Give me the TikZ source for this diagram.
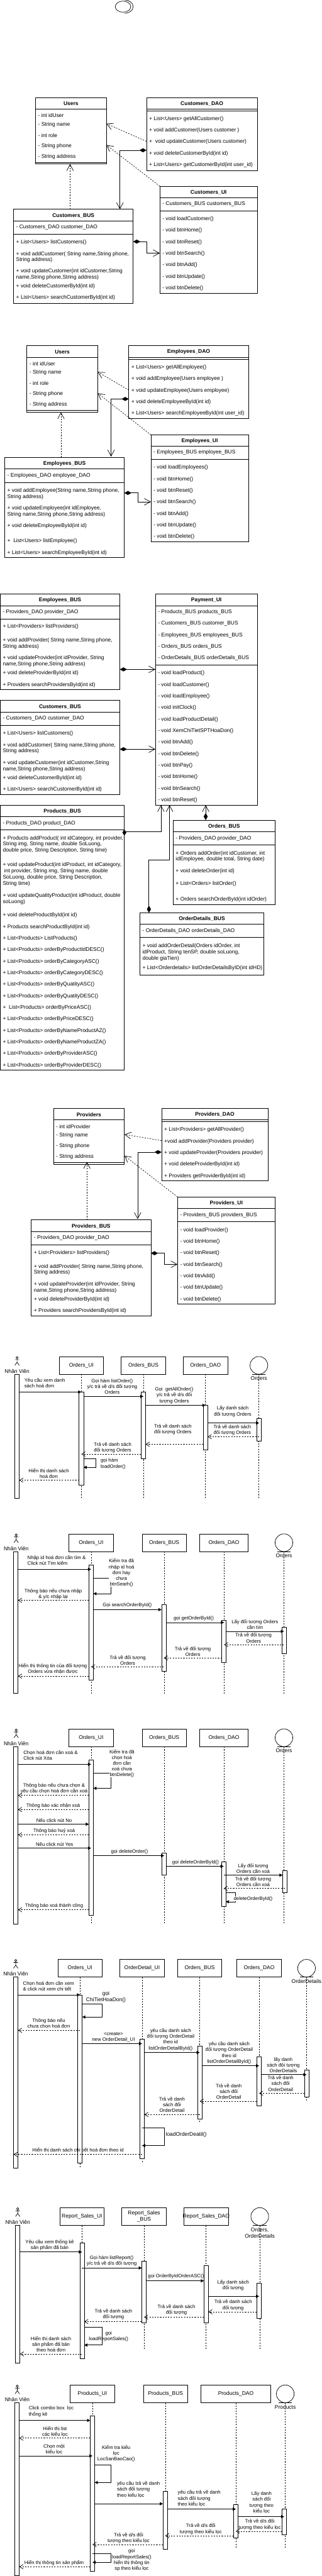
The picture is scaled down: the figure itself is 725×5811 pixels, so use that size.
\documentclass[tikz,border=0pt]{standalone}
\usepackage{fontspec}
\setmainfont{Liberation Sans}
\usetikzlibrary{arrows.meta}

\begin{document}
\begin{tikzpicture}[x=1pt,y=-1pt,line width=1pt,
  every node/.style={font=\fontsize{12}{14}\selectfont,inner sep=0pt,outer sep=0pt},
  classbox/.style={draw,anchor=north west},
  clstitle/.style={font=\fontsize{12}{14}\selectfont\bfseries},
  rowtxt/.style={anchor=west,align=left,xshift=6pt,yshift=-1pt},
  headbox/.style={draw,fill=white,anchor=north,minimum height=40pt},
  entity/.style={draw,fill=white,circle,minimum size=40pt},
  actbar/.style={draw,fill=white,minimum width=10pt},
  lifeline/.style={dash pattern=on 3pt off 3pt},
  assoc/.style={-{Straight Barb[length=14pt,width=15pt]}},
  dep/.style={assoc,dash pattern=on 3pt off 3pt},
  comp/.style={{Diamond[length=16pt,width=9pt]}-{Straight Barb[length=14pt,width=15pt]}},
  call/.style={-{Triangle[length=7pt,width=7pt]}},
  ret/.style={-{Straight Barb[length=8pt,width=10pt]},dash pattern=on 3pt off 3pt},
  hlbl/.style={align=center},
  hlbll/.style={align=left,anchor=west},
  lbl/.style={align=center,font=\fontsize{11}{13}\selectfont},
  lbll/.style={align=left,anchor=west,font=\fontsize{11}{13}\selectfont},
  lblw/.style={lbl,fill=white}]
  \useasboundingbox (0,0) rectangle (725,5811);
  \draw (277.5,15) ellipse [x radius=17.5,y radius=12.5];
  \draw (280.5,0) arc[start angle=-90,end angle=90,x radius=20,y radius=15];
  \foreach \nm/\xa/\ya/\bw/\bh/\ttl/\seps in {
    cusers/80/220/160/150/Users/{246,366},
    cdao/330.5/220/250/165/Customers\_DAO/{246,250},
    cui/360.5/420/220/242/Customers\_UI/{446,476},
    cbus/30.5/472/270/212/Customers\_BUS/{498,528},
    eusers/60.5/780/160/150/Users/{806,926},
    edao/290.5/780/270/164/Employees\_DAO/{806,810},
    eui/340.5/981/220/241/Employees\_UI/{1006,1036},
    ebus/10.5/1032/270/226/Employees\_BUS/{1058,1088},
    pebus/0.5/1340/270/216/Employees\_BUS/{1366,1396},
    pui/350.5/1340/230/476/Payment\_UI/{1366,1500},
    pcbus/0.5/1580/270/212/Customers\_BUS/{1606,1636},
    ppbus/0.5/1816/280/598/Products\_BUS/{1842,1872},
    pobus/390.5/1850/230/190/Orders\_BUS/{1876,1906},
    pdbus/315.5/2059/280/140/OrderDetails\_BUS/{2085,2115},
    vusers/120.5/2500/160/126/Providers/{2526,2622},
    vdao/364.5/2500/240/164/Providers\_DAO/{2526,2530},
    vui/400.5/2700/220/242/Providers\_UI/{2726,2756},
    vbus/70.5/2752/270/216/Providers\_BUS/{2778,2808}} {
    \node[classbox,minimum width=\bw,minimum height=\bh] (\nm) at (\xa,\ya) {};
    \node[clstitle] (\nm t) at (\nm.north |- 0,\ya+14) {\ttl};
    \foreach \yy in \seps \draw (\nm.west |- 0,\yy) -- (\nm.east |- 0,\yy);
  }
  \foreach \nm/\yy/\txt in {
    cusers/259/- int idUser, cusers/280/- String name, cusers/304/- int role, cusers/328/- String phone, cusers/352/- String address,
    cdao/267/+ List<Users> getAllCustomer(), cdao/293/+ void addCustomer(Users customer ), cdao/319/+\ \ void updateCustomer(Users customer),
    cdao/345/+ void deleteCustomerById(int id), cdao/371/+ List<Users> getCustomerById(int user\_id),
    cui/459/- Customers\_BUS customers\_BUS, cui/493/- void loadCustomer(), cui/519/- void btnHome(), cui/545/- void btnReset(),
    cui/571/- void btnSearch(), cui/597/- void btnAdd(), cui/623/- void btnUpdate(), cui/649/- void btnDelete(),
    cbus/511/- Customers\_DAO customer\_DAO, cbus/545/+ List<Users> listCustomers(),
    cbus/579/{+ void addCustomer( String name,String phone,\\String address)},
    cbus/618/{+ void updateCustomer(int idCustomer,String\\name,String phone,String address)},
    cbus/645/+ void deleteCustomerById(int id), cbus/671/+ List<Users> searchCustomerById(int id),
    eusers/820/- int idUser, eusers/840/- String name, eusers/864/- int role, eusers/888/- String phone, eusers/912/- String address,
    edao/828/+ List<Users> getAllEmployee(), edao/854/+ void addEmployee(Users employee ), edao/880/+ void updateEmployee(Users employee),
    edao/906/+ void deleteEmployeeById(int id), edao/932/+ List<Users> searchEmployeeById(int user\_id),
    eui/1020/- Employees\_BUS employee\_BUS, eui/1054/- void loadEmployees(), eui/1080/- void btnHome(), eui/1106/- void btnReset(),
    eui/1132/- void btnSearch(), eui/1158/- void btnAdd(), eui/1184/- void btnUpdate(), eui/1210/- void btnDelete(),
    ebus/1072/- Employees\_DAO employee\_DAO,
    ebus/1113/{+ void addEmployee(String name,String phone,\\String address)},
    ebus/1153/{+ void updateEmployee(int idEmployee,\\String name,String phone,String address)},
    ebus/1186/+ void deleteEmployeeById(int id), ebus/1220/+\ \ List<Users> listEmployee(), ebus/1246/+ List<Users> searchEmployeeById(int id),
    pebus/1380/- Providers\_DAO provider\_DAO, pebus/1413/+ List<Providers> listProviders(),
    pebus/1451/{+ void addProvider( String name,String phone,\\String address)},
    pebus/1491/{+ void updateProvider(int idProvider, String\\name,String phone,String address)},
    pebus/1518/+ void deleteProviderById(int id), pebus/1544/+ Providers searchProvidersById(int id),
    pui/1380/- Products\_BUS products\_BUS, pui/1406/- Customers\_BUS customer\_BUS, pui/1432/- Employees\_BUS employees\_BUS,
    pui/1458/- Orders\_BUS orders\_BUS, pui/1484/- OrderDetails\_BUS orderDetails\_BUS, pui/1518/- void loadProduct(),
    pui/1544/- void loadCustomer(), pui/1570/- void loadEmployee(), pui/1596/- void initClock(), pui/1622/- void loadProductDetail(),
    pui/1648/- void XemChiTietSPTHoaDon(), pui/1674/- void btnAdd(), pui/1700/- void btnDelete(), pui/1726/- void btnPay(),
    pui/1752/- void btnHome(), pui/1778/- void btnSearch(), pui/1804/- void btnReset(),
    pcbus/1620/- Customers\_DAO customer\_DAO, pcbus/1654/+ List<Users> listCustomers(),
    pcbus/1687/{+ void addCustomer( String name,String phone,\\String address)},
    pcbus/1727/{+ void updateCustomer(int idCustomer,String\\name,String phone,String address)},
    pcbus/1754/+ void deleteCustomerById(int id), pcbus/1780/+ List<Users> searchCustomerById(int id),
    ppbus/1856/- Products\_DAO product\_DAO,
    ppbus/1904/{+ Products addProduct( int idCategory, int provider,\\String img, String name, double SoLuong,\\double price, String Description, String time)},
    ppbus/1971/{+ void updateProduct(int idProduct, int idCategory,\\\ int provider, String img, String name, double\\SoLuong, double price, String Description,\\String time)},
    ppbus/2027/{+ void updateQuatityProduct(int idProduct, double\\soLuong)},
    ppbus/2064/+ void deleteProductById(int id), ppbus/2090/+ Products searchProductById(int id), ppbus/2116/+ List<Products> ListProducts(),
    ppbus/2142/+ List<Products> orderByProductIdDESC(), ppbus/2168/+ List<Products> orderByCategoryASC(),
    ppbus/2194/+ List<Products> orderByCategoryDESC(), ppbus/2220/+ List<Products> orderByQuatityASC(),
    ppbus/2246/+ List<Products> orderByQuatityDESC(), ppbus/2272/+\ \ List<Products> orderByPriceASC(),
    ppbus/2298/+ List<Products> orderByPriceDESC(), ppbus/2324/+ List<Products> orderByNameProductAZ(),
    ppbus/2350/+ List<Products> orderByNameProductZA(), ppbus/2376/+ List<Products> orderByProviderASC(),
    ppbus/2402/+ List<Products> orderByProviderDESC(),
    pobus/1890/- Providers\_DAO provider\_DAO,
    pobus/1931/{+ Orders addOrder(int idCustomer, int\\idEmployee, double total, String date)},
    pobus/1964/+ void deleteOrder(int id), pobus/1993/+ List<Orders> listOrder(), pobus/2028/+ Orders searchOrderById(int idOrder),
    pdbus/2099/- OrderDetails\_DAO orderDetails\_DAO,
    pdbus/2147/{+ void addOrderDetail(Orders idOrder, int\\idProduct, String tenSP, double soLuong,\\double giaTien)},
    pdbus/2183/+ List<Orderdetails> listOrderDetailsByID(int idHD),
    vusers/2540/- int idProvider, vusers/2560/- String name, vusers/2584/- String phone, vusers/2608/- String address,
    vdao/2548/+ List<Providers> getAllProvider(), vdao/2574/+void addProvider(Providers provider), vdao/2600/+ void updateProvider(Providers provider),
    vdao/2626/+ void deleteProviderById(int id), vdao/2652/+ Providers getProviderById(int id),
    vui/2740/- Providers\_BUS providers\_BUS, vui/2774/- void loadProvider(), vui/2800/- void btnHome(), vui/2826/- void btnReset(),
    vui/2852/- void btnSearch(), vui/2878/- void btnAdd(), vui/2904/- void btnUpdate(), vui/2930/- void btnDelete(),
    vbus/2792/- Providers\_DAO provider\_DAO, vbus/2826/+ List<Providers> listProviders(),
    vbus/2863/{+ void addProvider( String name,String phone,\\String address)},
    vbus/2903/{+ void updateProvider(int idProvider, String\\name,String phone,String address)},
    vbus/2930/+ void deleteProviderById(int id), vbus/2956/+ Providers searchProvidersById(int id)} {
    \node[rowtxt] (\nm\yy) at (\nm.west |- 0,\yy) {\txt};
  }
  \draw[dep] (cdao.west |- 0,319) -- (cusers.east |- 0,279);
  \draw[dep] (cui.north west) -- (cusers.east |- 0,327);
  \draw[dep] (158,0 |- cbus.north) -- (158,0 |- cusers.south);
  \draw[comp] (cdao.west |- 0,339) -| (270.5,0 |- cbus.north);
  \draw[comp] (cbus.east |- 0,545) -- (330.5,545) |- (cui.west |- 0,571);
  \draw[dep] (edao.west |- 0,880) -- (eusers.east |- 0,839);
  \draw[dep] (eui.north west) -- (eusers.east |- 0,887);
  \draw[dep] (137.5,0 |- ebus.north) -- (137.5,0 |- eusers.south);
  \draw[comp] (edao.west |- 0,900) -| (250.5,1030);
  \draw[comp] (ebus.east |- 0,1112) -- (310.5,1112) |- (eui.west |- 0,1132);
  \draw[comp] (pebus.east |- 0,1510) -- (pui.west |- 0,1510);
  \draw[comp] (pcbus.east |- 0,1690) -- (pui.west |- 0,1690);
  \draw[assoc] (ppbus.east |- 0,1876) -| (363,0 |- pui.south);
  \fill (280.5,1871) -- (285,1878) -- (280.5,1885) -- (276,1878) -- cycle;
  \draw[comp] (464,0 |- pobus.north) -- (464,0 |- pui.south);
  \draw[comp] (336,0 |- pdbus.north) -- (336,1940) -| (382.5,0 |- pui.south);
  \draw[dep] (vdao.west |- 0,2573) -- (vusers.east |- 0,2559);
  \draw[dep] (vui.north west) -- (vusers.east |- 0,2607);
  \draw[dep] (196,0 |- vbus.north) -- (196,2621);
  \draw[comp] (vdao.west |- 0,2599) -| (310.5,2750);
  \draw[comp] (vbus.east |- 0,2827) -- (370.5,2827) |- (vui.west |- 0,2852);
  \foreach \nm/\xx/\ya/\yb/\bw/\txt in {
    hu1/183.5/3060/3380/100/Orders\_UI, hb1/323.5/3060/3380/100/Orders\_BUS, hd1/463.5/3060/3380/100/Orders\_DAO,
    hu2/205.5/3460/3820/100/Orders\_UI, hb2/370.5/3460/3820/100/Orders\_BUS, hd2/505/3460/3820/109/Orders\_DAO,
    hu3/205.5/3900/4340/100/Orders\_UI, hb3/370.5/3900/4340/100/Orders\_BUS, hd3/505/3900/4340/109/Orders\_DAO,
    hu4/180.5/4420/4890/100/Orders\_UI, ho4/320.5/4420/4878/100/OrderDetail\_UI, hb4/450.5/4420/4788/100/Orders\_BUS, hd4/584.5/4420/4750/100/Orders\_DAO,
    hu5/185/4980/5300/100/Report\_Sales\_UI, hb5/325/4980/5300/100/{Report\_Sales\\\_BUS}, hd5/465/4980/5300/100/Report\_Sales\_DAO,
    hu6/208.5/5380/5748/100/Products\_UI, hb6/373.5/5380/5748/100/Products\_BUS, hd6/532/5380/5748/157/Products\_DAO} {
    \node[headbox,minimum width=\bw] (\nm) at (\xx,\ya) {};
    \node[hlbl] (\nm t) at (\nm) {\txt};
    \draw[lifeline] (\nm) -- (\nm |- 0,\yb);
  }
  \foreach \nm/\xx/\ya/\yb/\yt/\txt in {
    ent1/584/3060/3380/3109/Orders, ent2/640.5/3460/3820/3509/Orders, ent3/640.5/3900/4340/3949/Orders,
    ent4/691.5/4420/4740/4470/OrderDetails, ent5/586/4980/5300/5037/{Orders,\\OrderDetails}, ent6/643.5/5380/5748/5430/Products} {
    \node[entity] (\nm) at (\xx,\ya+20) {};
    \draw (\xx-15,\ya+40) -- (\xx+15,\ya+40);
    \draw[lifeline] (\nm) -- (\nm |- 0,\yb);
    \node[hlbl] (\nm t) at (\xx,\yt) {\txt};
  }
  \foreach \nm/\xx/\yy in {act1/38.5/3060, act2/36.5/3460, act3/36.5/3900, act4/35.5/4420, act5/40/4980, act6/39/5380} {
    \draw (\xx,\yy+2.5) circle[radius=2.5];
    \draw (\xx,\yy+5) -- (\xx,\yy+13) (\xx-5,\yy+7) -- (\xx+5,\yy+7) (\xx-5,\yy+20) -- (\xx,\yy+13) -- (\xx+5,\yy+20);
    \node (\nm) at (\xx,\yy+33) {Nhân Viên};
  }
  \foreach \nm/\xx/\ya/\yb in {
    a1/38.5/3100/3380, u1/183.5/3140/3350, b1/323.5/3140/3290, d1/463.5/3170/3270, e1/584.5/3200/3250,
    a2/35.5/3500/3820, u2/205.5/3530/3790, b2/369.5/3620/3770, d2/505.5/3655/3750, e2/640.5/3670/3730,
    a3/35.5/3940/4340, u3/205.5/3970/4320, b3/370.5/4180/4230, d3/504.5/4200/4300, e3/642.5/4220/4270,
    a4/35.5/4460/4890, u4/180.5/4500/4880, o4/320.5/4600/4870, b4/450.5/4615/4780, d4/584.5/4640/4750, e4/691.5/4670/4730,
    a5/40/5020/5330, u5/185/5060/5320, b5/325/5100/5240, d5/465/5110/5240, e5/584.5/5150/5230,
    a6/38.5/5420/5810, u6/208.5/5450/5800, b6/372.5/5620/5750, d6/532/5650/5725, e6/641/5660/5718} {
    \node[actbar,minimum height={\yb-\ya}] (\nm) at (\xx,{(\ya+\yb)/2}) {};
  }
  \foreach \aa/\bb/\yy/\sty in {
    a1.east/u1.center/3140/call, u1.east/b1.center/3150/call, b1.east/d1.center/3170/call, d1.east/e1.center/3210/call,
    e1.center/d1.east/3241/ret, d1.west/b1.east/3258/ret, b1.west/u1.center/3280/ret, u1.west/a1.east/3339/ret,
    a2.east/u2.center/3540/call, u2.west/a2.east/3610/ret, u2.east/b2.west/3631/call, b2.east/d2.center/3660/call, d2.east/e2.center/3680/call,
    e2.center/d2.center/3710/ret, d2.west/b2.center/3740/ret, b2.center/u2.center/3760/ret, u2.west/a2.east/3781/ret,
    a3.east/u3.center/3980/call, u3.west/a3.east/4050/ret, u3.west/a3.east/4082/ret, a3.east/u3.west/4115/call, u3.west/a3.east/4139/ret,
    a3.east/u3.center/4169/call, u3.east/b3.center/4186/call, b3.east/d3.center/4210/call, d3.center/e3.west/4230/call,
    e3.center/d3.center/4260/ret, u3.west/a3.east/4308/ret,
    a4.east/u4.center/4500/call, u4.center/a4.east/4580/ret, u4.east/o4.center/4610/call, o4.east/b4.center/4630/call,
    b4.east/d4.center/4660/call, d4.east/e4.center/4680/call, e4.west/d4.center/4722/ret, d4.west/b4.center/4740/ret,
    b4.center/o4.east/4770/ret, o4.center/a4.west/4860/ret,
    a5.east/u5.center/5080/call, u5.center/b5.west/5116/call, b5.east/d5.west/5145/call, d5.east/e5.center/5180/call,
    e5.west/d5.east/5215/ret, d5.west/b5.center/5227/ret, b5.west/u5.east/5237/ret, u5.center/a5.east/5310/ret,
    a6.east/u6.west/5460/call, u6.west/a6.east/5500/ret, a6.east/u6.center/5540/call, u6.east/b6.west/5648/call,
    b6.east/d6.center/5660/call, d6.east/e6.center/5677/call, e6.west/d6.center/5710/ret, d6.west/b6.center/5720/ret,
    b6.west/u6.center/5740/ret, u6.west/a6.east/5790/ret} {
    \draw[\sty] (\aa |- 0,\yy) -- (\bb |- 0,\yy);
  }
  \foreach \aa/\ya/\yb/\xx in {
    u1.east/3290/3310/216, u2.east/3560/3595/250.5, u3.east/4000/4034/250.5, d3.east/4270/4290/530.5, u4.east/4520/4550/230.5,
    o4.center/4800/4840/370.5, u5.east/5250/5290/230.5, u6.east/5560/5600/250.5, u6.center/5760/5780/250.5} {
    \draw[call] (\aa |- 0,\ya) -| (\xx,\yb) -- (\aa |- 0,\yb);
  }
  \foreach \nm/\sty/\xx/\yy/\txt in {
    la1/lbll/55/3120/{Yêu cầu xem danh\\sách hoá đơn},
    la2/lbl/253/3128/{Gọi hàm listOrder()\\y/c trả về d/s đối tượng\\Orders},
    la3/lbl/393/3148/{Gọi\ \ getAllOrder()\\y/c trả về d/s đối\\tượng Orders},
    la4/lbl/525/3184/{Lấy danh sách\\đối tượng Orders},
    la5/lbl/524/3226/{Trả về danh sách\\đối tượng Orders},
    la6/lbl/390/3225/{Trả về danh sách\\đối tượng Orders},
    la7/lbl/254/3265/{Trả về danh sách\\đối tượng Orders},
    la8/lbll/227/3302/{gọi hàm\\loadOrder()},
    la9/lbl/110/3324/{Hiển thị danh sách\\hoá đơn},
    lb1/lbll/62/3520/{Nhập id hoá đơn cần tìm \&\\Click nút Tìm kiếm},
    lb2/lblw/274/3548/{Kiểm tra đã\\nhập id hoá\\đơn hay\\chưa\\btnSearh()},
    lb3/lbl/120/3596/{Thông báo nếu chưa nhập\\\& y/c nhập lại},
    lb4/lbl/287/3621/Gọi searchOrderById(),
    lb5/lbl/437/3651/gọi getOrderById(),
    lb6/lbl/575/3665/{Lấy đối tượng Orders\\cần tìm},
    lb7/lbl/572/3695/{Trả về đối tượng\\Orders},
    lb8/lbl/435/3725/{Trả về đối tượng\\Orders},
    lb9/lbl/288/3745/{Trả về đối tượng\\Orders},
    lb10/lbl/119/3765/{Hiển thị thông tin của đối tượng\\Orders vừa nhận được},
    lc1/lbll/53/3960/{Chọn hoá đơn cần xoá \&\\Click nút Xóa},
    lc2/lblw/275/3978/{Kiểm tra đã\\chọn hoá\\đơn cần\\xoá chưa\\btnDelete()},
    lc3/lbl/122/4035/{Thông báo nếu chưa chọn \&\\yêu cầu chọn hoá đơn cần xoá},
    lc4/lbl/120/4073/Thông báo xác nhận xoá,
    lc5/lbl/122/4106/Nếu click nút No,
    lc6/lbl/122/4130/Thông báo huỷ xoá,
    lc7/lbl/123/4160/Nếu click nút Yes,
    lc8/lbl/292/4178/gọi deleteOrder(),
    lc9/lbl/441/4201/gọi deleteOrderById(),
    lc10/lbl/571/4215/{Lấy đối tượng\\Orders cần xoá},
    lc11/lbl/571/4245/{Trả về đối tượng\\Orders cần xoá},
    lc12/lblw/571/4283/deleteOrderById(),
    lc13/lbl/122/4299/Thông báo xoá thành công,
    ld1/lbll/52/4480/{Chọn hoá đơn cần xem\\\& click nút xem chi tiết},
    ld2/hlbl/239/4505/{gọi\\ChiTietHoaDon()},
    ld3/lbl/110/4565/{Thông báo nếu\\chưa chọn hoá đơn},
    ld4/lbl/256/4595/{<create>\\new OrderDetail\_UI},
    ld5/lbl/385/4601/{yêu cầu danh sách\\đối tượng OrderDetail\\theo id\\listOrderDetailById()},
    ld6/lbl/517/4631/{yêu cầu danh sách\\đối tượng OrderDetail\\theo id\\listOrderDetailById()},
    ld7/lblw/639/4658/{lấy danh\\sách đội tượng\\OrderDetails},
    ld8/lblw/633/4700/{Trả về danh\\sách đối\\OrderDetail},
    ld9/lbl/516/4718/{Trả về danh\\sách đối\\OrderDetail},
    ld10/lbl/388/4748/{Trả về danh\\sách đối\\OrderDetail},
    ld11/hlbll/374/4815/loadOrderDeatil(),
    ld12/lbl/176/4851/Hiển thị danh sách chi tiết hoá đơn theo id,
    le1/lbl/112/5065/{Yêu cầu xem thống kê\\sản phẩm đã bán},
    le2/lbl/252/5100/{Gọi hàm listReport()\\y/c trả về d/s đối tượng},
    le3/lbl/397/5135/gọi OrderByIdOrderASC(),
    le4/lbl/526/5155/{Lấy danh sách\\đối tượng},
    le5/lbl/526/5200/{Trả về danh sách\\đối tượng},
    le6/lbl/398/5210/{Trả về danh sách\\đối tượng},
    le7/lbl/256/5221/{Trả về danh sách\\đối tượng},
    le8/lbl/245/5270/{gọi\\loadReportSales()},
    le9/lbl/115/5288/{Hiển thị danh sách\\sản phẩm đã bán\\theo hoá đơn},
    lf1/lbll/65/5440/{Click combo box\ \ lọc\\thống kê},
    lf2/lbl/124/5485/{Hiển thị list\\các kiểu lọc},
    lf3/lbl/122/5525/{Chọn một\\kiểu lọc},
    lf4/lbl/262/5535/{Kiểm tra kiểu\\lọc\\LocSanBaoCao()},
    lf5/lbll/264/5616/{yêu cầu trả về danh\\sách đối tượng\\theo kiểu lọc},
    lf6/lbll/401/5636/{yêu cầu trả về danh\\sách đối tượng\\theo kiểu lọc},
    lf7/lbl/590/5645/{Lấy danh\\sách đối\\tượng theo\\kiểu lọc},
    lf8/lbl/586/5695/{Trả về d/s đối\\tượng theo kiểu lọc},
    lf9/lbl/453/5705/{Trả về d/s đối\\tượng theo kiểu lọc},
    lf10/lbl/290/5725/{Trả về d/s đối\\tượng theo kiểu lọc},
    lf11/lbl/297/5775/{gọi\\loadReportSales()\\hiển thị thông tin\\sp theo kiểu lọc},
    lf12/lbl/122/5781/Hiển thị thông tin sản phẩm} {
    \node[\sty] (\nm) at (\xx,\yy) {\txt};
  }
\end{tikzpicture}
\end{document}
